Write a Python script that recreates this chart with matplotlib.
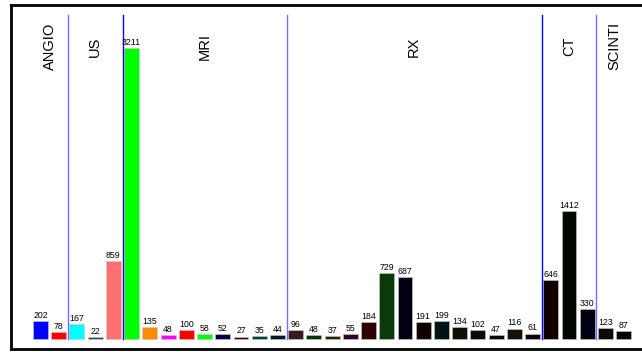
import matplotlib
matplotlib.use('Agg')
import matplotlib.pyplot as plt

# data
groups = ['ANGIO', 'US', 'MRI', 'RX', 'CT', 'SCINTI']
group_sizes = [2, 3, 9, 14, 3, 2]
values = [202, 78,
          167, 22, 859,
          3211, 135, 48, 100, 58, 52, 27, 35, 44,
          96, 48, 37, 55, 184, 729, 687, 191, 199, 134, 102, 47, 116, 61,
          646, 1412, 330,
          123, 87]
colors = ['#0000ff', '#ff0000',
          '#00ffff', '#2f4f4f', '#ff6f6f',
          '#00ff00', '#ff8c00', '#ff00ff', '#ff0000', '#00ff00', '#000040', '#400000', '#004040', '#0a1a1a',
          '#3a1a1a', '#003300', '#331a00', '#330033', '#330000', '#0a3a0a', '#000010', '#100000',
          '#001414', '#101000', '#100808', '#001000', '#181000', '#100010',
          '#100000', '#000800', '#000010',
          '#100808', '#000000']
sep_colors = ['#7070ff', '#0000ff', '#7070ff', '#0000ff', '#7070ff']

fig = plt.figure(figsize=(6.42, 3.52), dpi=100)
ax = fig.add_axes([11/642, 3/352, 640/642, 344/352])

x = list(range(len(values)))
ax.bar(x, values, width=0.82, color=colors, edgecolor='#c8c8c8', linewidth=0.4)

for xi, v in zip(x, values):
    ax.text(xi, v + 12, str(v), ha='center', va='bottom', fontsize=6.3,
            family='Liberation Sans')

# group separators + labels
start = 0
for i, (g, n) in enumerate(zip(groups, group_sizes)):
    mid = start + (n - 1) / 2
    ax.text(mid, 3230, g, rotation=90, ha='center', va='center', fontsize=10.5,
            family='Liberation Sans')
    if i < len(groups) - 1:
        ax.plot([start + n - 0.5] * 2, [0, 3576], color=sep_colors[i], lw=1)
    start += n

ax.set_xlim(-1.62, 33.5)
ax.set_ylim(-110, 3686)
ax.set_xticks([])
ax.set_yticks([])
for s in ['left', 'bottom', 'top']:
    ax.spines[s].set_linewidth(2)
ax.spines['right'].set_visible(False)

fig.savefig('out.png', dpi=100)
